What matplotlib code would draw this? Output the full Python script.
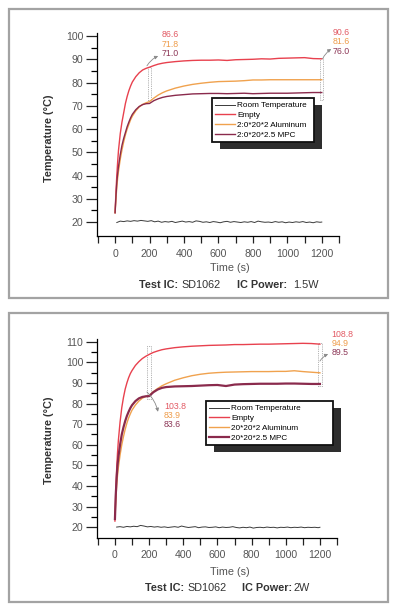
import matplotlib
matplotlib.use("Agg")
import matplotlib.pyplot as plt
from matplotlib.patches import Rectangle

plt.rcParams['font.family'] = ['Liberation Sans', 'DejaVu Sans']

W, H = 399, 613

# ---------------- data ----------------
t_curve = [0, 5, 10, 15, 20, 30, 40, 50, 60, 70, 80, 90, 100, 120, 140, 160, 180, 200,
           225, 250, 275, 300, 350, 400, 450, 500, 550, 600, 650, 700, 750, 800, 850,
           900, 950, 1000, 1050, 1100, 1150, 1200]

empty_15 = [24, 33, 40, 46, 51, 58, 63, 67, 71, 74, 76.5, 78.5, 80.2, 82.5, 84.2, 85.4, 86.1, 86.6,
            87.3, 87.9, 88.3, 88.6, 89.0, 89.3, 89.5, 89.6, 89.6, 89.7, 89.5, 89.8, 89.9, 90.0, 90.2,
            90.1, 90.4, 90.5, 90.6, 90.7, 90.3, 90.2]
alu_15 = [24, 30, 35, 39, 42, 47, 51, 54.5, 57.5, 60, 62, 64, 65.5, 67.8, 69.5, 70.6, 71.3, 71.8,
          73.3, 74.6, 75.6, 76.4, 77.6, 78.5, 79.2, 79.7, 80.1, 80.4, 80.5, 80.6, 80.8, 81.1, 81.1,
          81.2, 81.2, 81.2, 81.2, 81.2, 81.2, 81.2]
mpc_15 = [24, 31, 37, 41, 44, 49, 53, 56, 58.5, 61, 63, 64.8, 66.3, 68.3, 69.7, 70.5, 70.9, 71.0,
          72.2, 73.0, 73.6, 74.0, 74.5, 74.8, 75.1, 75.2, 75.3, 75.3, 75.2, 75.3, 75.4, 75.2, 75.3,
          75.4, 75.4, 75.4, 75.5, 75.6, 75.7, 75.7]

empty_2 = [23, 38, 48, 56, 62, 71, 78, 83, 87, 90, 92.5, 94.5, 96, 98.5, 100.3, 101.8, 102.9, 103.8,
           104.8, 105.5, 106.1, 106.5, 107.1, 107.5, 107.8, 108.0, 108.2, 108.3, 108.4, 108.6, 108.6,
           108.7, 108.8, 108.8, 108.9, 109.0, 109.1, 109.2, 109.1, 108.8]
alu_2 = [24, 33, 40, 45, 49, 55, 60, 64, 67.5, 70.5, 73, 75, 76.8, 79.3, 81.2, 82.6, 83.4, 83.9,
         85.8, 87.3, 88.6, 89.6, 91.3, 92.5, 93.5, 94.2, 94.7, 95.0, 95.2, 95.3, 95.4, 95.5, 95.5,
         95.5, 95.6, 95.6, 95.9, 95.5, 95.2, 94.9]
mpc_2 = [24, 36, 44, 50, 54, 60, 65, 68.5, 71.5, 74, 76, 77.8, 79.2, 81.2, 82.5, 83.2, 83.5, 83.6,
         85.5, 86.8, 87.6, 88.0, 88.3, 88.4, 88.5, 88.7, 88.9, 89.0, 88.5, 89.2, 89.4, 89.5, 89.6,
         89.6, 89.6, 89.7, 89.7, 89.6, 89.5, 89.5]

t_room = [10, 30, 50, 70, 90, 110, 130, 150, 170, 190, 210, 230, 250, 270, 290, 310, 330, 350,
          370, 390, 410, 430, 450, 470, 490, 510, 530, 550, 570, 590, 610, 630, 650, 670, 690,
          710, 730, 750, 770, 790, 810, 830, 850, 870, 890, 910, 930, 950, 970, 990, 1010, 1030,
          1050, 1070, 1090, 1110, 1130, 1150, 1170, 1190, 1200]
room_15 = [19.8, 20.4, 20.2, 20.5, 20.3, 20.6, 20.4, 20.7, 20.5, 20.3, 20.6, 20.1, 20.4, 19.9, 20.2,
           20.0, 20.3, 19.8, 20.1, 20.4, 20.0, 20.2, 19.9, 20.5, 20.3, 19.9, 20.1, 19.8, 20.2, 20.0,
           19.7, 20.1, 20.3, 19.9, 20.2, 20.0, 19.8, 20.1, 19.9, 20.2, 19.8, 20.4, 20.1, 19.9, 20.0,
           19.8, 20.2, 19.9, 20.1, 19.7, 20.0, 19.8, 20.1, 19.9, 20.2, 19.8, 20.0, 19.7, 20.1, 19.9, 20.0]
room_2 = [20.1, 20.3, 20.0, 20.4, 20.2, 20.5, 20.3, 20.9, 20.6, 20.2, 20.4, 20.1, 20.3, 20.0, 20.2,
          19.9, 20.1, 20.3, 20.0, 20.6, 20.2, 19.9, 20.1, 20.3, 19.8, 20.1, 20.2, 19.9, 20.0, 20.2,
          19.8, 20.1, 19.9, 20.0, 20.3, 19.9, 19.7, 20.0, 19.8, 20.1, 19.6, 19.9, 20.0, 19.8, 20.1,
          19.9, 20.0, 19.7, 20.0, 19.9, 20.1, 19.8, 20.0, 19.9, 20.1, 19.8, 20.0, 19.9, 20.0, 19.8, 20.0]

labels_15 = ["Room Temperature", "Empty", "2:0*20*2 Aluminum", "2:0*20*2.5 MPC"]
labels_2 = ["Room Temperature", "Empty", "20*20*2 Aluminum", "20*20*2.5 MPC"]

ann_15_t200 = ["86.6", "71.8", "71.0"]
ann_15_t1200 = ["90.6", "81.6", "76.0"]
ann_2_t200 = ["103.8", "83.9", "83.6"]
ann_2_t1200 = ["108.8", "94.9", "89.5"]

x_ticks = [0, 200, 400, 600, 800, 1000, 1200]
x_minor = [-100, 100, 300, 500, 700, 900, 1100, 1300]

C_ROOM = "#3a3a3a"
C_EMPTY = "#e8414e"
C_ALU = "#f0a24e"
C_MPC = "#8a2a4c"
T_EMPTY = "#e25a64"
T_ALU = "#ee9c4a"
T_MPC = "#8c3656"

fig = plt.figure(figsize=(W / 100, H / 100), dpi=100)


def rect_px(l, t, r, b):
    return [l / W, 1 - b / H, (r - l) / W, (b - t) / H]


def ftext(x, y, s, **kw):
    fig.text(x / W, 1 - y / H, s, **kw)


# panel borders
for (l, t, r, b) in [(9, 9, 388, 298), (9, 313, 388, 602)]:
    fig.patches.append(Rectangle((l / W, 1 - b / H), (r - l) / W, (b - t) / H,
                                 transform=fig.transFigure, fill=False,
                                 edgecolor="#a3a3a3", lw=1.6))


def make_panel(axrect, ylim, yticks, yminor, room, empty, alu, mpc, labels, mpc_lw,
               leg_box, ann_left, left_pos, ann_right, right_pos,
               box200, box1200, arr_left, arr_right):
    ax = fig.add_axes(rect_px(*axrect))
    ax.plot(t_room, room, color=C_ROOM, lw=0.7, label=labels[0])
    ax.plot(t_curve, empty, color=C_EMPTY, lw=1.0, label=labels[1])
    ax.plot(t_curve, alu, color=C_ALU, lw=1.0, label=labels[2])
    ax.plot(t_curve, mpc, color=C_MPC, lw=mpc_lw, label=labels[3])
    ax.set_xlim(-105, 1300)
    ax.set_ylim(*ylim)
    for s in ["top", "right"]:
        ax.spines[s].set_visible(False)
    ax.spines["left"].set_linewidth(0.9)
    ax.spines["bottom"].set_linewidth(0.9)
    ax.set_xticks(x_ticks)
    ax.set_xticks(x_minor, minor=True)
    ax.set_yticks(yticks)
    ax.set_yticks(yminor, minor=True)
    ax.tick_params(axis="x", which="both", direction="out", length=5, width=0.9,
                   labelsize=7.6, colors="#222222", labelcolor="#555555", pad=4)
    ax.tick_params(axis="y", which="major", direction="out", length=8, width=0.9,
                   labelsize=7.6, colors="#222222", labelcolor="#555555", pad=2)
    ax.tick_params(axis="y", which="minor", direction="out", length=4, width=0.9)
    ax.set_facecolor("none")

    # dotted boxes
    for (x0, x1, y0, y1) in [box200, box1200]:
        ax.add_patch(Rectangle((x0, y0), x1 - x0, y1 - y0, fill=False,
                               edgecolor="#9a9a9a", lw=0.6, ls=(0, (1, 1.2))))
    # arrows
    for (p0, p1) in [arr_left, arr_right]:
        ax.annotate("", xy=p1, xytext=p0, annotation_clip=False,
                    arrowprops=dict(arrowstyle="-|>", color="#8a8a8a", lw=0.6,
                                    mutation_scale=5, shrinkA=0, shrinkB=0,
                                    connectionstyle="arc3,rad=-0.15"))
    cols = [T_EMPTY, T_ALU, T_MPC]
    for vals, pos in [(ann_left, left_pos), (ann_right, right_pos)]:
        xx, ys = pos
        for v, yy, c in zip(vals, ys, cols):
            ax.text(xx, yy, v, color=c, fontsize=6.3, ha="left", va="center", clip_on=False)

    # legend
    l, t, r = leg_box
    leg = ax.legend(loc="upper left", bbox_to_anchor=(l / W, 1 - t / H, (r - l) / W, 0.001),
                    bbox_transform=fig.transFigure, mode="expand", fontsize=5.9,
                    frameon=True, fancybox=False, framealpha=1, edgecolor="#111111",
                    borderpad=0.4, labelspacing=0.25, handlelength=2.4, handletextpad=0.25,
                    borderaxespad=0)
    leg.get_frame().set_linewidth(1.3)
    leg.set_zorder(6)
    return ax, leg


ax1, leg1 = make_panel(
    (97, 33, 339, 236), (14, 101.3), [20, 30, 40, 50, 60, 70, 80, 90, 100],
    [25, 35, 45, 55, 65, 75, 85, 95],
    room_15, empty_15, alu_15, mpc_15, labels_15, 1.0,
    (212, 99, 314),
    ann_15_t200, (272, [100.6, 96.5, 92.3]),
    ann_15_t1200, (1262, [101.7, 97.5, 93.2]),
    (190, 210, 72.5, 86.8), (1190, 1210, 72.5, 90.5),
    ((185, 87.2), (250, 91.4)), ((1205, 90.2), (1255, 94.4)))

ax2, leg2 = make_panel(
    (97, 339, 337, 538), (14.8, 111.3), [20, 30, 40, 50, 60, 70, 80, 90, 100, 110],
    [25, 35, 45, 55, 65, 75, 85, 95, 105],
    room_2, empty_2, alu_2, mpc_2, labels_2, 1.6,
    (206, 402, 333),
    ann_2_t200, (287, [78.8, 74.3, 69.8]),
    ann_2_t1200, (1268, [113.5, 109.0, 104.6]),
    (190, 210, 82.0, 108.0), (1190, 1210, 88.5, 109.5),
    ((187, 85.6), (252, 76.0)), ((1200, 100.6), (1248, 104.0)))

# axis labels and captions
ylab_kw = dict(fontsize=7.8, fontweight="bold", color="#333333", rotation=90,
               ha="center", va="center")
ftext(49, 138, "Temperature (°C)", **ylab_kw)
ftext(49, 440, "Temperature (°C)", **ylab_kw)
ftext(230, 268, "Time (s)", fontsize=7.8, color="#555555", ha="center", va="center")
ftext(230, 572, "Time (s)", fontsize=7.8, color="#555555", ha="center", va="center")

cap_kw = dict(fontsize=7.8, va="center", ha="left", color="#333333")
ftext(139, 285, "Test IC:", fontweight="bold", **cap_kw)
ftext(181, 285, "SD1062", **cap_kw)
ftext(237, 285, "IC Power:", fontweight="bold", **cap_kw)
ftext(293, 285, "1.5W", **cap_kw)
ftext(145, 588, "Test IC:", fontweight="bold", **cap_kw)
ftext(187, 588, "SD1062", **cap_kw)
ftext(242, 588, "IC Power:", fontweight="bold", **cap_kw)
ftext(293, 588, "2W", **cap_kw)

# legend shadows
fig.canvas.draw()
for ax, leg in [(ax1, leg1), (ax2, leg2)]:
    bb = leg.get_window_extent()
    inv = ax.transAxes.inverted()
    dx, dy = 8, -7
    (x0, y0) = inv.transform((bb.x0 + dx, bb.y0 + dy))
    (x1, y1) = inv.transform((bb.x1 + dx, bb.y1 + dy))
    sh = Rectangle((x0, y0), x1 - x0, y1 - y0, transform=ax.transAxes,
                   facecolor="#2e2e2e", edgecolor="none", zorder=5.5, clip_on=False)
    ax.add_patch(sh)

fig.savefig("out.png", dpi=100)
